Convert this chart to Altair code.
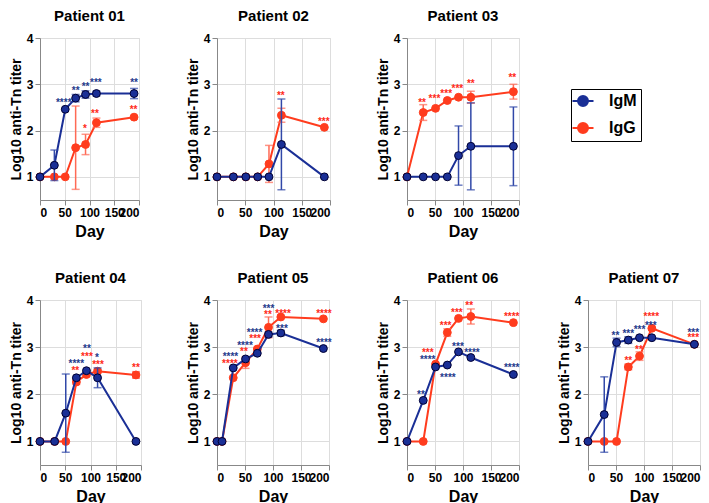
import altair as alt
import pandas as pd

# ---------------- data ----------------
DAYS = [0, 29, 51, 72, 92, 114, 190]
DAYS_P05 = [0, 9, 29, 51, 72, 92, 114, 190]

P01_IGM = [1.00, 1.25, 2.46, 2.70, 2.78, 2.80, 2.80]
P01_IGM_ERR = [0, 0.33, 0, 0.08, 0.08, 0.05, 0.11]
P01_IGG = [1.00, 1.00, 1.00, 1.63, 1.70, 2.17, 2.29]
P01_IGG_ERR = [0, 0, 0, 0.90, 0.22, 0.10, 0]

P02_IGM = [1.00, 1.00, 1.00, 1.00, 1.00, 1.70, 1.00]
P02_IGM_ERR = [0, 0, 0, 0, 0, 0.98, 0]
P02_IGG = [1.00, 1.00, 1.00, 1.00, 1.28, 2.33, 2.07]
P02_IGG_ERR = [0, 0, 0, 0, 0.40, 0.15, 0]

P03_IGM = [1.00, 1.00, 1.00, 1.00, 1.46, 1.66, 1.66]
P03_IGM_ERR = [0, 0, 0, 0, 0.64, 0.94, 0.85]
P03_IGG = [1.00, 2.39, 2.48, 2.65, 2.72, 2.72, 2.84]
P03_IGG_ERR = [0, 0.17, 0, 0, 0, 0.13, 0.16]

P04_IGM = [1.00, 1.00, 1.60, 2.35, 2.50, 2.35, 1.00]
P04_IGM_ERR = [0, 0, 0.83, 0, 0, 0.21, 0]
P04_IGG = [1.00, 1.00, 1.00, 2.26, 2.42, 2.49, 2.41]
P04_IGG_ERR = [0, 0, 0, 0.05, 0.04, 0.04, 0.07]

P05_IGM = [1.00, 1.00, 2.56, 2.75, 2.87, 3.27, 3.30, 2.97]
P05_IGM_ERR = [0, 0, 0, 0, 0, 0.05, 0.06, 0]
P05_IGG = [1.00, 1.00, 2.35, 2.67, 2.96, 3.42, 3.64, 3.60]
P05_IGG_ERR = [0, 0, 0, 0.12, 0, 0.22, 0, 0]

P06_IGM = [1.00, 1.87, 2.58, 2.62, 2.90, 2.78, 2.42]
P06_IGM_ERR = [0, 0, 0, 0, 0, 0, 0]
P06_IGG = [1.00, 1.00, 2.64, 3.31, 3.61, 3.65, 3.52]
P06_IGG_ERR = [0, 0, 0, 0.08, 0, 0.16, 0]

P07_IGM = [1.00, 1.57, 3.10, 3.15, 3.20, 3.20, 3.06]
P07_IGM_ERR = [0, 0.80, 0.09, 0.07, 0, 0, 0]
P07_IGG = [1.00, 1.00, 1.00, 2.58, 2.81, 3.40, 3.06]
P07_IGG_ERR = [0, 0, 0, 0.06, 0.09, 0, 0]

# significance stars: (x day, series, label, y)
P01_STARS = [(48, "IgM", "****", 2.67), (72, "IgM", "**", 2.92), (92, "IgM", "**", 3.01),
             (113, "IgM", "***", 3.10), (190, "IgM", "**", 3.10),
             (91, "IgG", "*", 2.09), (111, "IgG", "**", 2.43), (189, "IgG", "**", 2.51)]
P02_STARS = [(113, "IgG", "**", 2.81), (189, "IgG", "***", 2.25)]
P03_STARS = [(27, "IgG", "**", 2.65), (49, "IgG", "***", 2.75), (70, "IgG", "***", 2.86),
             (90, "IgG", "***", 2.96), (114, "IgG", "**", 3.07), (188, "IgG", "**", 3.19)]
P04_STARS = [(72, "IgM", "****", 2.71), (70, "IgG", "**", 2.55), (93, "IgM", "**", 3.02),
             (93, "IgG", "***", 2.86), (113, "IgM", "*", 2.84), (115, "IgG", "***", 2.69),
             (190, "IgG", "**", 2.63)]
P05_STARS = [(24, "IgM", "****", 2.86), (23, "IgG", "****", 2.70), (50, "IgM", "****", 3.09),
             (48, "IgG", "**", 2.96), (67, "IgM", "****", 3.37), (68, "IgG", "***", 3.23),
             (92, "IgM", "***", 3.88), (91, "IgG", "**", 3.75), (118, "IgG", "****", 3.77),
             (116, "IgM", "***", 3.45), (191, "IgG", "****", 3.76), (191, "IgM", "****", 3.16)]
P06_STARS = [(25, "IgM", "**", 2.05), (37, "IgG", "***", 2.93), (37, "IgM", "****", 2.79),
             (73, "IgM", "****", 2.41), (69, "IgG", "***", 3.52), (89, "IgG", "***", 3.78),
             (91, "IgM", "***", 3.07), (111, "IgG", "**", 3.93), (116, "IgM", "****", 2.93),
             (187, "IgG", "****", 3.70), (187, "IgM", "****", 2.62)]
P07_STARS = [(49, "IgM", "**", 3.30), (72, "IgM", "***", 3.35), (92, "IgM", "***", 3.42),
             (72, "IgG", "**", 2.77), (91, "IgG", "**", 3.00), (113, "IgG", "****", 3.70),
             (112, "IgM", "***", 3.52), (188, "IgM", "***", 3.37), (188, "IgG", "***", 3.25)]

SERIES = ["IgM", "IgG"]
X_TICKS = [0, 50, 100, 150, 200]
Y_TICKS = [1, 2, 3, 4]

# ---------------- styles ----------------
FONT = "Liberation Sans"
LINE_COLOR = {"IgM": "#1a2f96", "IgG": "#ff3c1e"}
POINT_STROKE = {"IgM": "#000033", "IgG": "#ff3c1e"}
ERR_COLOR = {"IgM": "#3148a8", "IgG": "#ff6a55"}
STAR_COLOR = {"IgM": "#1f3a8c", "IgG": "#ff2a1a"}

LEGEND_SYMBOL = "M-2.1,0L-1,0M1,0L2.1,0M1,0A1,1,0,1,1,-1,0A1,1,0,1,1,1,0Z"


def x_enc(field):
    return alt.X(f"{field}:Q", scale=alt.Scale(domain=[0, 200], nice=False),
                 axis=alt.Axis(values=X_TICKS, title="Day", titleFontSize=16, titlePadding=5,
                               labelFontWeight="bold", labelFontSize=12, labelOverlap=False))


def y_enc(field):
    return alt.Y(f"{field}:Q", scale=alt.Scale(domain=[0.5, 4], nice=False, zero=False),
                 axis=alt.Axis(values=Y_TICKS, format="d", title="Log10 anti-Tn titer",
                               titleFontSize=14, titlePadding=3,
                               labelFontWeight="bold", labelFontSize=12))


color_enc = alt.Color(
    "Ig:N",
    scale=alt.Scale(domain=SERIES, range=[LINE_COLOR["IgM"], LINE_COLOR["IgG"]]),
    legend=alt.Legend(title=None, orient="none", legendX=531, legendY=51,
                      symbolType=LEGEND_SYMBOL, symbolSize=100, symbolStrokeWidth=2,
                      labelFont=FONT, labelFontSize=16, labelFontWeight="bold",
                      labelColor="black", labelOffset=18, rowPadding=9,
                      padding=4, strokeColor="black"),
)


def panel(name, days, igm, igm_err, igg, igg_err, stars, w, h):
    rows = []
    for ig, vals, errs in (("IgG", igg, igg_err), ("IgM", igm, igm_err)):
        for d, v, e in zip(days, vals, errs):
            rows.append(dict(day=d, Ig=ig, val=v, lo=v - e, hi=v + e, err=e))
    df = pd.DataFrame(rows)
    sdf = pd.DataFrame(stars, columns=["sx", "Ig", "label", "sy"])

    layers = []
    for ig in ["IgG", "IgM"]:
        base = alt.Chart(df).transform_filter(alt.datum.Ig == ig)
        line = base.mark_line(strokeWidth=2).encode(x=x_enc("day"), y=y_enc("val"), color=color_enc)
        eb = base.transform_filter(alt.datum.err > 0)
        rule = eb.mark_rule(strokeWidth=1.5, color=ERR_COLOR[ig]).encode(
            x=x_enc("day"), y=y_enc("lo"), y2="hi:Q")
        cap_lo = eb.mark_tick(orient="horizontal", size=8, thickness=1.5, color=ERR_COLOR[ig]).encode(
            x=x_enc("day"), y=y_enc("lo"))
        cap_hi = eb.mark_tick(orient="horizontal", size=8, thickness=1.5, color=ERR_COLOR[ig]).encode(
            x=x_enc("day"), y=y_enc("hi"))
        pts = base.mark_point(filled=True, size=62, opacity=1, stroke=POINT_STROKE[ig],
                              strokeWidth=1).encode(x=x_enc("day"), y=y_enc("val"), color=color_enc)
        layers += [line, rule, cap_lo, cap_hi, pts]
    for ig in ["IgG", "IgM"]:
        st = alt.Chart(sdf).transform_filter(alt.datum.Ig == ig).mark_text(
            font=FONT, fontSize=10, fontWeight="bold", baseline="alphabetic", dy=6,
            color=STAR_COLOR[ig]).encode(x=x_enc("sx"), y=y_enc("sy"), text="label:N")
        layers.append(st)
    return alt.layer(*layers).properties(
        width=w, height=h,
        title=alt.Title(name, font=FONT, fontSize=15, fontWeight="bold", color="black", offset=8),
    )


H_TOP = 162
H_BOT = 165

p1 = panel("Patient 01", DAYS, P01_IGM, P01_IGM_ERR, P01_IGG, P01_IGG_ERR, P01_STARS, 99, H_TOP)
p2 = panel("Patient 02", DAYS, P02_IGM, P02_IGM_ERR, P02_IGG, P02_IGG_ERR, P02_STARS, 113, H_TOP)
p3 = panel("Patient 03", DAYS, P03_IGM, P03_IGM_ERR, P03_IGG, P03_IGG_ERR, P03_STARS, 112, H_TOP)
p4 = panel("Patient 04", DAYS, P04_IGM, P04_IGM_ERR, P04_IGG, P04_IGG_ERR, P04_STARS, 101, H_BOT)
p5 = panel("Patient 05", DAYS_P05, P05_IGM, P05_IGM_ERR, P05_IGG, P05_IGG_ERR, P05_STARS, 112, H_BOT)
p6 = panel("Patient 06", DAYS, P06_IGM, P06_IGM_ERR, P06_IGG, P06_IGG_ERR, P06_STARS, 112, H_BOT)
p7 = panel("Patient 07", DAYS, P07_IGM, P07_IGM_ERR, P07_IGG, P07_IGG_ERR, P07_STARS, 112, H_BOT)

top = alt.hconcat(p1, p2, p3, spacing=44)
bottom_left = alt.hconcat(p4, p5, p6, spacing=42)
bottom = alt.hconcat(bottom_left, p7, spacing=35)

chart = alt.vconcat(top, bottom, spacing=30).properties(
    padding=0
).configure_view(stroke="transparent").configure_axis(
    grid=False,
    domainColor="black", domainWidth=2,
    tickColor="black", tickWidth=2, tickSize=2,
    labelFont=FONT, labelFontSize=12, labelFontWeight="bold", labelColor="black", labelPadding=0,
    titleFont=FONT, titleFontWeight="bold", titleColor="black",
).configure(background="white")

chart.save("out.html", embed_options={"renderer": "svg", "actions": False})
